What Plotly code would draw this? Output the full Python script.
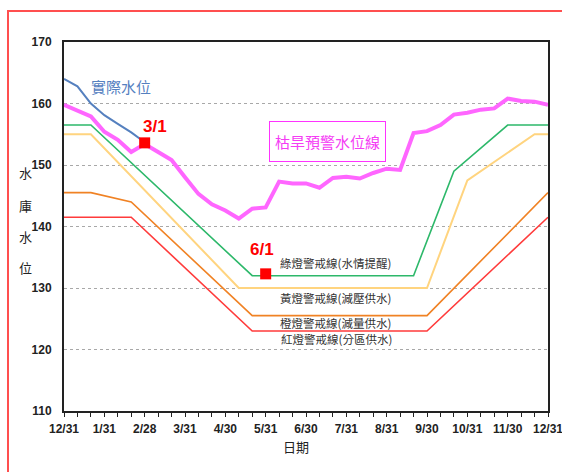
import plotly.graph_objects as go

# ---------------- data (period index = ten-day period, 0 = 12/31) ----------------
tick_periods = [0, 3, 6, 9, 12, 15, 18, 21, 24, 27, 30, 33, 36]
tick_labels = ["12/31", "1/31", "2/28", "3/31", "4/30", "5/31", "6/30",
               "7/31", "8/31", "9/30", "10/31", "11/30", "12/31"]

green_x = [0, 2, 14, 26, 29, 33, 36]
green_y = [156.5, 156.5, 132.0, 132.0, 149.0, 156.5, 156.5]

yellow_x = [0, 2, 13, 27, 30, 35, 36]
yellow_y = [155.0, 155.0, 130.0, 130.0, 147.5, 155.0, 155.0]

orange_x = [0, 2, 5, 14, 27, 36]
orange_y = [145.5, 145.5, 144.0, 125.5, 125.5, 145.5]

red_x = [0, 5, 14, 27, 36]
red_y = [141.5, 141.5, 123.0, 123.0, 141.5]

drought_x = list(range(37))
drought_y = [159.8, 158.8, 157.9, 155.4, 154.1, 152.1, 153.4, 152.1, 150.8, 148.0,
             145.3, 143.6, 142.6, 141.3, 142.9, 143.1, 147.3, 147.0, 147.0, 146.3,
             147.9, 148.1, 147.8, 148.7, 149.4, 149.2, 155.2, 155.5, 156.5, 158.2,
             158.5, 159.0, 159.2, 160.8, 160.4, 160.3, 159.8]

actual_x = [0, 1, 2, 3, 4, 5, 6]
actual_y = [164.0, 162.8, 160.0, 158.1, 156.7, 155.3, 153.7]

marker_x = [6, 15]
marker_y = [153.6, 132.3]
marker_labels = ["3/1", "6/1"]

line_labels = ["綠燈警戒線(水情提醒)", "黃燈警戒線(減壓供水)",
               "橙燈警戒線(減量供水)", "紅燈警戒線(分區供水)"]

# ---------------- figure ----------------
fig = go.Figure()

def add_line(x, y, color, width):
    fig.add_trace(go.Scatter(x=x, y=y, mode="lines", line=dict(color=color, width=width),
                             hoverinfo="skip", showlegend=False))

add_line(red_x, red_y, "#FF3B3B", 1.6)
add_line(orange_x, orange_y, "#F08224", 1.6)
add_line(yellow_x, yellow_y, "#FFD47F", 2)
add_line(green_x, green_y, "#2DB86A", 1.6)
add_line(drought_x, drought_y, "#FF66FF", 4)
add_line(actual_x, actual_y, "#5580BF", 2)

fig.add_trace(go.Scatter(x=marker_x, y=marker_y, mode="markers",
                         marker=dict(symbol="square", size=11, color="#FF0000"),
                         hoverinfo="skip", showlegend=False))

cjk = "Noto Sans CJK TC"
narrow = "Liberation Sans Narrow, Arial Narrow, Liberation Sans, Arial"

ann = []
ann.append(dict(x=4.24, y=162.7, xref="x", yref="y", text="實際水位", showarrow=False,
                font=dict(family=cjk, size=15, color="#5580BF")))
ann.append(dict(x=6.8, y=156.2, xref="x", yref="y", text=marker_labels[0], showarrow=False,
                font=dict(family=narrow, size=17, color="#FF0000", weight="bold")))
ann.append(dict(x=14.75, y=136.3, xref="x", yref="y", text=marker_labels[1], showarrow=False,
                font=dict(family=narrow, size=17, color="#FF0000", weight="bold")))
ann.append(dict(x=19.6, y=153.8, xref="x", yref="y", text="枯旱預警水位線", showarrow=False,
                font=dict(family=cjk, size=15, color="#F53CF5"),
                bordercolor="#FF33FF", borderwidth=1, bgcolor="white",
                width=113, height=37, borderpad=1))
for lx, ly, t in zip([20.23, 20.2, 20.23, 20.3], [134.1, 128.4, 124.3, 121.7], line_labels):
    ann.append(dict(x=lx, y=ly, xref="x", yref="y", text=t, showarrow=False,
                    font=dict(family=cjk, size=11.5, color="#333333")))
# axis titles
for ch, py in zip(["水", "庫", "水", "位"], [0.645, 0.558, 0.474, 0.388]):
    ann.append(dict(x=-0.097, y=py, xref="paper", yref="paper", text=ch, showarrow=False,
                    font=dict(family=cjk, size=13, color="#222222")))
ann.append(dict(x=0.479, y=-0.127, xref="paper", yref="paper", text="日期", showarrow=False,
                font=dict(family=cjk, size=13, color="#222222")))

fig.update_layout(
    width=562, height=472,
    margin=dict(l=64, r=14, t=42, b=61, autoexpand=False),
    paper_bgcolor="white", plot_bgcolor="white",
    annotations=ann,
    shapes=[dict(type="rect", xref="paper", yref="paper",
                 x0=-0.1157, x1=1.08, y0=-0.2, y1=1.084,
                 line=dict(color="#FF4F4F", width=2), layer="below")],
)

fig.update_xaxes(range=[0, 36], tickmode="array", tickvals=tick_periods, ticktext=tick_labels,
                 ticks="outside", ticklen=4, tickcolor="#222", tickwidth=1,
                 minor=dict(dtick=1, tick0=0, ticks="outside", ticklen=4, tickcolor="#222", showgrid=False),
                 showgrid=False, showline=True, linecolor="#222", linewidth=2, mirror=True,
                 zeroline=False, ticklabeloverflow="allow", automargin=False,
                 ticklabelstandoff=2,
                 tickfont=dict(family=narrow, size=12, color="#222", weight="bold"))
fig.update_yaxes(range=[110, 170], tickmode="linear", tick0=110, dtick=10,
                 showgrid=True, gridcolor="#A8A8A8", griddash="dot", gridwidth=1,
                 showline=True, linecolor="#222", linewidth=2, mirror=True, zeroline=False,
                 ticks="", ticklabelstandoff=8, automargin=False,
                 tickfont=dict(family=narrow, size=12, color="#222", weight="bold"))

fig.write_html("out.html")
